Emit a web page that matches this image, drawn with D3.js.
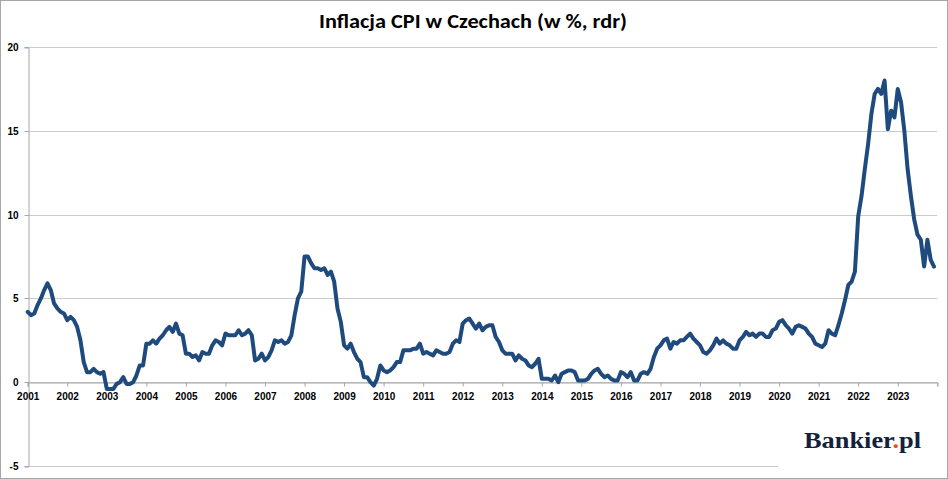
<!DOCTYPE html>
<html><head><meta charset="utf-8">
<script src="https://cdn.jsdelivr.net/npm/d3@7"></script>
<style>html,body{margin:0;padding:0;background:#fff;}svg{display:block;}</style>
</head><body>
<svg id="chart" width="948" height="479"></svg>
<script>
// ---- data ----
const title = "Inflacja CPI w Czechach (w %, rdr)";
const yearLabels = ["2001","2002","2003","2004","2005","2006","2007","2008","2009","2010","2011","2012","2013","2014","2015","2016","2017","2018","2019","2020","2021","2022","2023"];
const yTicks = [-5, 0, 5, 10, 15, 20];
// monthly CPI y/y, Jan 2001 .. Dec 2023
const cpi = [
  4.2,4.0,4.1,4.6,5.0,5.5,5.9,5.5,4.7,4.4,4.2,4.1,
  3.7,3.9,3.7,3.3,2.5,1.2,0.6,0.6,0.8,0.6,0.5,0.6,
  -0.4,-0.4,-0.4,-0.1,0.0,0.3,-0.1,-0.1,0.0,0.4,1.0,1.0,
  2.3,2.3,2.5,2.3,2.6,2.8,3.1,3.3,3.0,3.5,2.9,2.8,
  1.7,1.7,1.5,1.6,1.3,1.8,1.7,1.7,2.2,2.5,2.4,2.2,
  2.9,2.8,2.8,2.8,3.1,2.8,2.9,3.1,2.8,1.3,1.4,1.7,
  1.3,1.5,1.9,2.5,2.4,2.5,2.3,2.4,2.8,4.0,5.0,5.4,
  7.5,7.5,7.1,6.8,6.8,6.7,6.8,6.4,6.6,6.0,4.4,3.6,
  2.2,2.0,2.3,1.8,1.4,1.2,0.3,0.3,0.0,-0.2,0.2,1.0,
  0.7,0.6,0.7,0.9,1.2,1.2,1.9,1.9,1.9,2.0,2.0,2.3,
  1.7,1.8,1.7,1.6,1.9,1.8,1.7,1.7,1.8,2.3,2.5,2.4,
  3.5,3.7,3.8,3.5,3.2,3.5,3.1,3.3,3.4,3.4,2.7,2.4,
  1.9,1.7,1.7,1.7,1.3,1.6,1.4,1.3,1.0,0.9,1.1,1.4,
  0.2,0.2,0.2,0.1,0.4,0.0,0.5,0.6,0.7,0.7,0.6,0.1,
  0.1,0.1,0.2,0.5,0.7,0.8,0.5,0.3,0.4,0.2,0.1,0.1,
  0.6,0.5,0.3,0.6,0.1,0.1,0.5,0.6,0.5,0.8,1.5,2.0,
  2.2,2.5,2.6,2.0,2.4,2.3,2.5,2.5,2.7,2.9,2.6,2.4,
  2.2,1.8,1.7,1.9,2.2,2.6,2.3,2.5,2.3,2.2,2.0,2.0,
  2.5,2.7,3.0,2.8,2.9,2.7,2.9,2.9,2.7,2.7,3.1,3.2,
  3.6,3.7,3.4,3.2,2.9,3.3,3.4,3.3,3.2,2.9,2.7,2.3,
  2.2,2.1,2.3,3.1,2.9,2.8,3.4,4.1,4.9,5.8,6.0,6.6,
  9.9,11.1,12.7,14.2,16.0,17.2,17.5,17.2,18.0,15.1,16.2,15.8,
  17.5,16.7,15.0,12.7,11.1,9.7,8.8,8.5,6.9,8.5,7.3,6.9
];

// ---- chart ----
const svg = d3.select("#chart");
const W = 948, H = 479;
const plotLeft = 27.7, plotRight = 937.3, plotTop = 47, plotBottom = 466;
const nMonths = yearLabels.length * 12;

const x = d3.scaleLinear().domain([0, nMonths]).range([plotLeft, plotRight]);
const y = d3.scaleLinear().domain([-5, 20]).range([plotBottom, plotTop]);

// frame
svg.append("rect").attr("x",0.5).attr("y",0.5).attr("width",W-1).attr("height",H-1)
  .attr("fill","#fff").attr("stroke","#a6a6a6").attr("stroke-width",1);

// title
svg.append("text").attr("x",473).attr("y",28).attr("text-anchor","middle")
  .attr("font-family","Carlito, 'Open Sans', sans-serif").attr("font-weight",600)
  .attr("font-size",20).attr("fill","#000")
  .attr("textLength",308).attr("lengthAdjust","spacingAndGlyphs")
  .text(title);

// gridlines
const grid = svg.append("g");
grid.selectAll("line").data(yTicks).join("line")
  .attr("x1", plotLeft).attr("x2", plotRight)
  .attr("y1", d => Math.round(y(d))+0.5).attr("y2", d => Math.round(y(d))+0.5)
  .attr("stroke", "#cccccc").attr("stroke-width", 1);

// y axis
const yAxis = d3.axisLeft(y).tickValues(yTicks).tickSize(4).tickPadding(6).tickFormat(d => String(d));
const gy = svg.append("g").attr("transform", `translate(${Math.round(plotLeft)+0.5},0.5)`).call(yAxis);
gy.select(".domain").attr("stroke","#a6a6a6");
gy.selectAll(".tick line").attr("stroke","#a6a6a6");
gy.selectAll(".tick text").attr("font-family","'Liberation Sans', Arial, sans-serif")
  .attr("font-weight","bold").attr("font-size",10).attr("fill","#000");
gy.selectAll(".tick").attr("transform", d => `translate(0,${Math.round(y(d))})`);

// x axis at 0
const xTickVals = yearLabels.map((d,i) => i*12).concat([nMonths]);
const xAxis = d3.axisBottom(x).tickValues(xTickVals).tickSize(4).tickPadding(6)
  .tickFormat((d,i) => i < yearLabels.length ? yearLabels[i] : "");
const gx = svg.append("g").attr("transform", `translate(0,${Math.round(y(0))+0.5})`).call(xAxis);
gx.select(".domain").attr("stroke","#a6a6a6");
gx.selectAll(".tick line").attr("stroke","#a6a6a6");
gx.selectAll(".tick text").attr("font-family","'Liberation Sans', Arial, sans-serif")
  .attr("font-weight","bold").attr("font-size",10).attr("fill","#000");

// line
const line = d3.line().x((d,i) => x(i)).y(d => y(d));
svg.append("path").datum(cpi).attr("d", line)
  .attr("fill","none").attr("stroke","#1f4a7e").attr("stroke-width",4)
  .attr("stroke-linejoin","round").attr("stroke-linecap","round");

// logo area
svg.append("rect").attr("x",778).attr("y",420).attr("width",162).attr("height",52).attr("fill","#fff");
const logo = svg.append("text").attr("x",804).attr("y",448)
  .attr("font-family","'Liberation Serif', 'DejaVu Serif', serif").attr("font-weight","bold")
  .attr("font-size",23).attr("fill","#14213d")
  .attr("textLength",117).attr("lengthAdjust","spacingAndGlyphs");
logo.append("tspan").text("Bankier");
logo.append("tspan").attr("fill","#e8501e").text(".");
logo.append("tspan").text("pl");
</script>
</body></html>
